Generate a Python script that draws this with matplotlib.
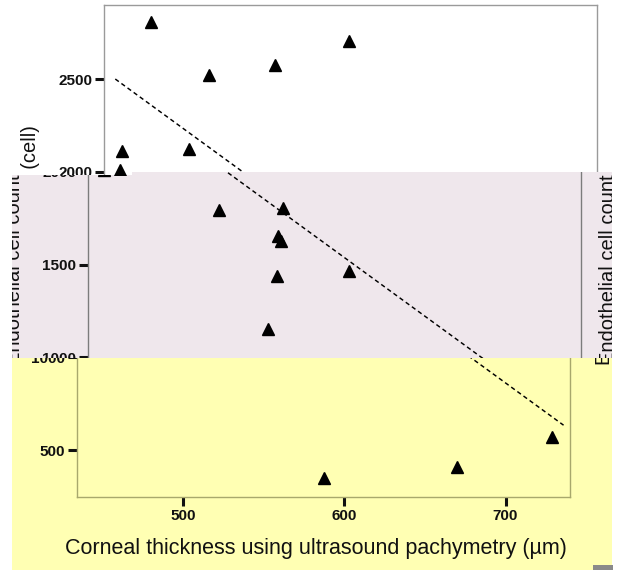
import numpy as np
import matplotlib
matplotlib.use('Agg')
import matplotlib.pyplot as plt
from matplotlib.transforms import Bbox, TransformedBbox
from matplotlib.patches import Rectangle

plt.rcParams['font.family'] = ['Liberation Sans', 'DejaVu Sans']

# Datos
espesor = [463, 499, 540, 586, 445, 487, 444, 515, 555, 552, 554, 551, 546, 596, 587, 670, 729]
celulas = [2807, 2522, 2575, 2705, 2112, 2123, 2009, 1794, 1805, 1654, 1627, 1438, 1152, 1465, 349, 408, 570]
recta_x = [441, 736]
recta_y = [2500, 634]
ticks_x = [500, 600, 700]
ticks_y = [500, 1000, 1500, 2000, 2500]

W, H = 620, 570
fig = plt.figure(figsize=(W / 100, H / 100), dpi=100)


def fx(px):
    return px / W


def fy(py):
    return 1 - py / H


# franjas desplazadas de la imagen:
# (arriba, abajo, x0, x1, desplazamiento, fondo, marco, ylabel, eje x)
franjas = [
    (0, 172, 0, 620, 27, 'white', '#9a9a9a', True, False),
    (172, 358, 12, 612, 11, '#efe7ec', '#7c7c7c', True, False),
    (358, 570, 12, 612, 0, '#ffffb3', '#a8a86c', False, True),
    (172, 175, 12, 132, 27, 'white', '#9a9a9a', True, False),
]
copia_label = {1: 608, 2: 605}
ylim = (247, 2899)

ejes = []
for i, (top, bot, x0, x1, off, bg, edge, con_ylabel, con_x) in enumerate(franjas):
    clip = TransformedBbox(Bbox([[fx(x0), fy(bot)], [fx(x1), fy(top)]]), fig.transFigure)

    ax = fig.add_axes([fx(77 + off), fy(497), fx(570) - fx(77), fy(5) - fy(497)], zorder=i)
    ax.set_facecolor('none')
    fondo = Rectangle((fx(x0), fy(bot)), fx(x1) - fx(x0), fy(top) - fy(bot),
                      transform=fig.transFigure, facecolor=bg, edgecolor='none', zorder=-10)
    ax.add_artist(fondo)
    fondo.set_clip_path(None)

    ax.plot(espesor, celulas, linestyle='none', marker='^', markersize=9, color='black')
    ax.plot(recta_x, recta_y, color='black', linestyle=(0, (3, 2.2)), linewidth=1.05)
    ax.set_xlim(434, 740)
    ax.set_ylim(*ylim)

    # solo las etiquetas que caen dentro de la franja
    etiquetas_y = []
    for v in ticks_y:
        py = 497 - (v - ylim[0]) / (ylim[1] - ylim[0]) * 492
        etiquetas_y.append(str(v) if top - 9 < py < bot + 9 else '')
    ax.set_xticks(ticks_x, [str(v) for v in ticks_x], fontweight='bold', fontsize=11)
    ax.set_yticks(ticks_y, etiquetas_y, fontweight='bold', fontsize=11)
    ax.tick_params(direction='out', length=6.5, width=2.2, color='#111111', labelcolor='#111111', pad=2)
    if not con_x:
        ax.tick_params(labelbottom=False)
    for s in ax.spines.values():
        s.set_color(edge)
        s.set_linewidth(1)
    if con_x:
        ax.set_xlabel('Corneal thickness using ultrasound pachymetry (µm)', fontsize=15.5,
                      va='center', color='#111111')
        ax.xaxis.set_label_coords(0.485, -0.104)
    if con_ylabel:
        ax.set_ylabel('Endothelial cell count (cell)', fontsize=14.5, va='center', color='#111111')
        ax.yaxis.set_label_coords(-0.150, 0.512)
    extra = []
    if i in copia_label:
        extra.append(fig.text(fx(copia_label[i]), fy(245), 'Endothelial cell count (cell)', rotation=90,
                              ha='center', va='center', fontsize=14.5, color='#111111', zorder=i))
    ejes.append((ax, clip, extra))

fig.add_artist(Rectangle((fx(593), fy(570)), fx(20), fy(565) - fy(570), transform=fig.transFigure,
                         facecolor='#8a8a8a', edgecolor='none', zorder=10))

fig.canvas.draw()
for ax, clip, extra in ejes:
    for art in ax.findobj(include_self=False) + extra:
        art.set_clip_on(True)
        art.set_clip_box(clip)

fig.savefig('out.png', dpi=100)
